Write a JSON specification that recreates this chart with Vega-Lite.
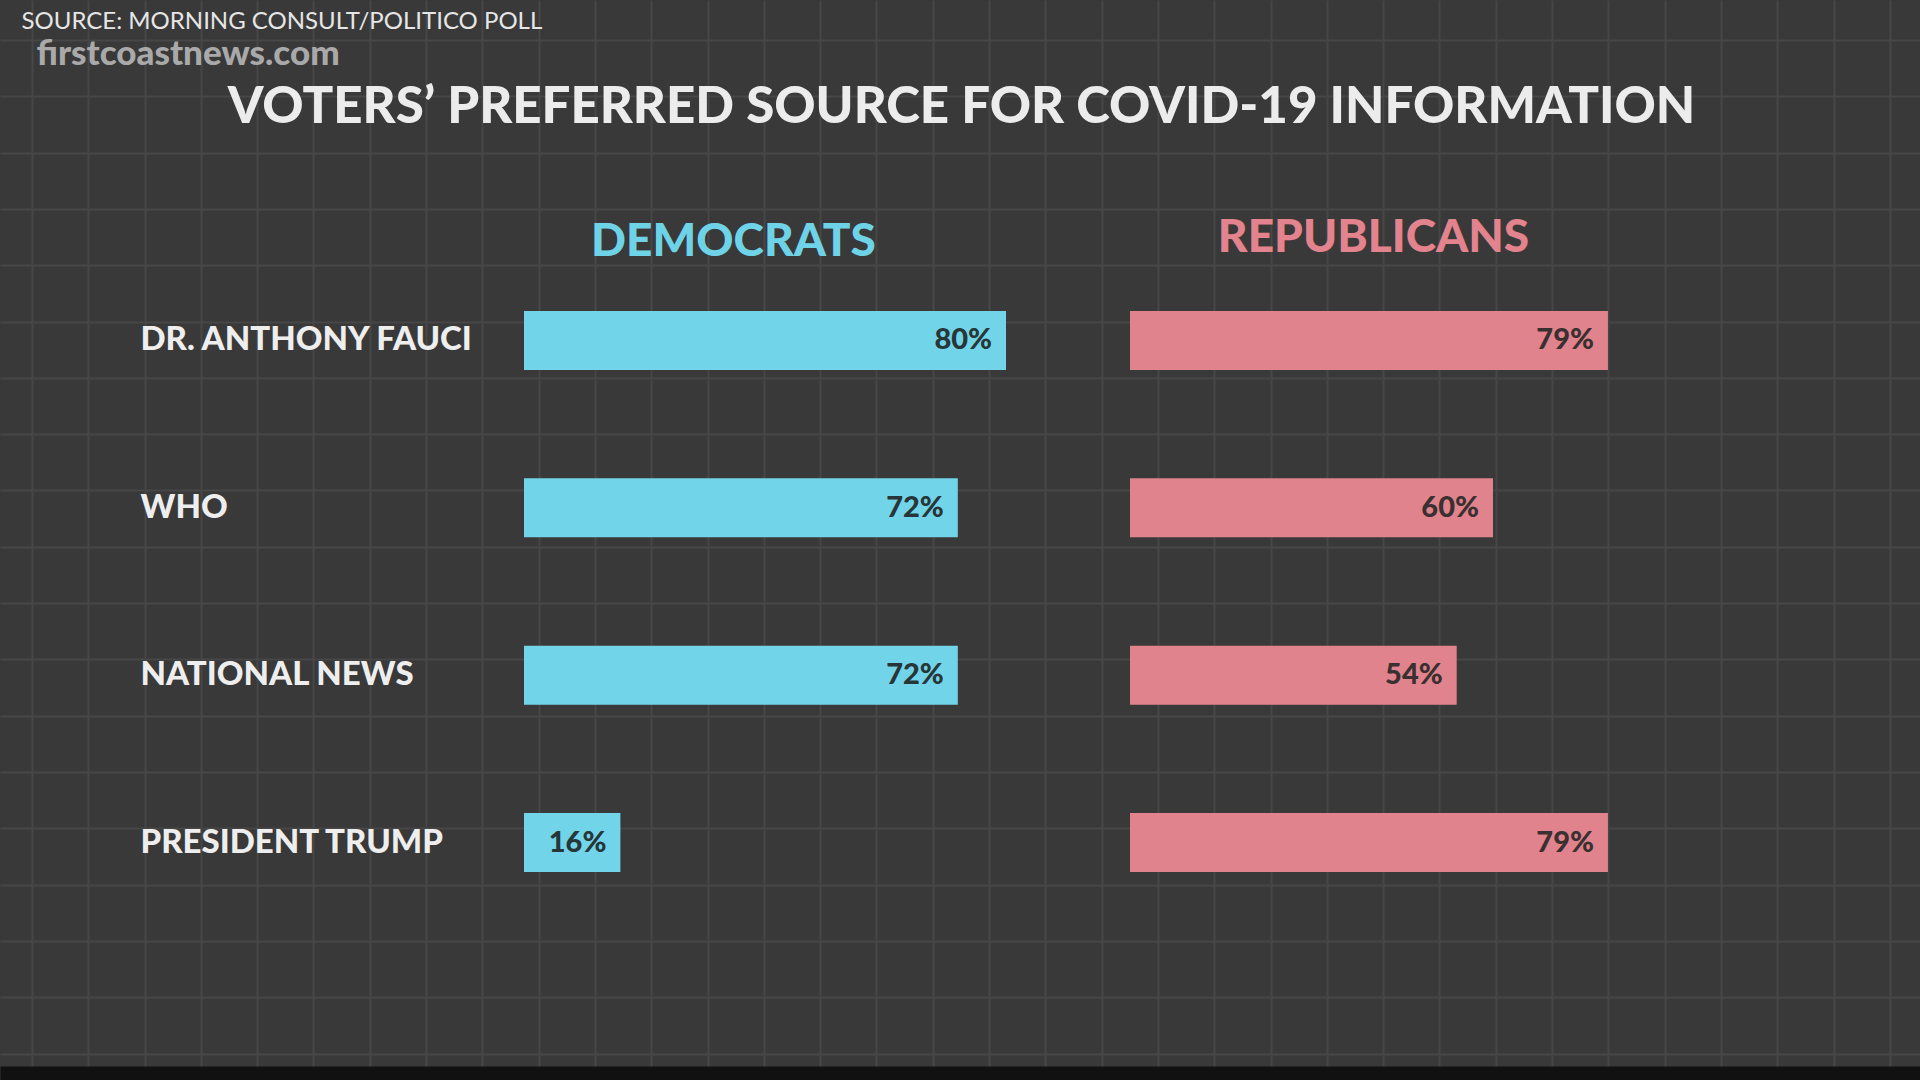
{
  "$schema": "https://vega.github.io/schema/vega-lite/v6.json",
  "width": 1920,
  "height": 1080,
  "autosize": "none",
  "padding": 0,
  "background": "#393939",
  "config": {"view": {"stroke": null}},
  "data": {
    "values": [
      {"source": "DR. ANTHONY FAUCI", "dem": 0.80, "rep": 0.79},
      {"source": "WHO", "dem": 0.72, "rep": 0.60},
      {"source": "NATIONAL NEWS", "dem": 0.72, "rep": 0.54},
      {"source": "PRESIDENT TRUMP", "dem": 0.16, "rep": 0.79}
    ]
  },
  "layer": [
    {
      "mark": {"type": "point", "opacity": 0},
      "encoding": {
        "x": {
          "datum": 0, "type": "quantitative",
          "scale": {"domain": [-0.568, 33.535], "nice": false, "zero": false},
          "axis": {
            "orient": "bottom", "offset": -7,
            "values": [0,1,2,3,4,5,6,7,8,9,10,11,12,13,14,15,16,17,18,19,20,21,22,23,24,25,26,27,28,29,30,31,32,33],
            "grid": true, "gridColor": "#474747", "gridWidth": 2,
            "labels": false, "ticks": false,
            "domain": true, "domainColor": "#111111", "domainWidth": 14,
            "title": "VOTERS’ PREFERRED SOURCE FOR COVID-19 INFORMATION",
            "titleX": 961, "titleY": -951, "titleAlign": "center", "titleBaseline": "alphabetic",
            "titleFont": "Lato", "titleFontWeight": 900, "titleFontSize": 51, "titleColor": "#ececec"
          }
        },
        "y": {
          "datum": 0, "type": "quantitative",
          "scale": {"domain": [-0.47, 18.71], "nice": false, "zero": false},
          "axis": {
            "orient": "left",
            "values": [0,1,2,3,4,5,6,7,8,9,10,11,12,13,14,15,16,17,18],
            "grid": true, "gridColor": "#474747", "gridWidth": 2,
            "labels": false, "ticks": false, "domain": false,
            "title": "SOURCE: MORNING CONSULT/POLITICO POLL",
            "titleAngle": 0, "titleX": 21, "titleY": 28, "titleAlign": "left", "titleBaseline": "alphabetic",
            "titleFont": "Lato", "titleFontWeight": "normal", "titleFontSize": 24, "titleColor": "#e6e6e6"
          }
        }
      }
    },
    {
      "layer": [
        {
          "mark": {"type": "bar", "color": "#72d4e8"},
          "encoding": {
            "y": {
              "field": "source", "type": "nominal",
              "scale": {"domain": ["DR. ANTHONY FAUCI", "WHO", "NATIONAL NEWS", "PRESIDENT TRUMP"], "range": [256.7, 926.3], "paddingInner": 0.6475, "paddingOuter": 0.32375},
              "axis": {
                "orient": "left", "offset": -140,
                "labelAlign": "left", "labelPadding": 0, "tickSize": 0, "ticks": false, "domain": false, "grid": false,
                "labelFont": "Lato", "labelFontWeight": 900, "labelFontSize": 33, "labelColor": "#eeeeee", "labelLimit": 600,
                "title": "firstcoastnews.com",
                "titleAngle": 0, "titleX": -104, "titleY": 64, "titleAlign": "left", "titleBaseline": "alphabetic",
                "titleFont": "Lato", "titleFontWeight": 900, "titleFontSize": 35, "titleColor": "#a9a9a9"
              }
            },
            "x": {
              "field": "dem", "type": "quantitative",
              "scale": {"domain": [-0.8697, 2.3170], "nice": false, "zero": false},
              "axis": {
                "orient": "top", "labels": false, "ticks": false, "domain": false, "grid": false,
                "title": "DEMOCRATS",
                "titleX": 733, "titleY": 255, "titleAlign": "center", "titleBaseline": "alphabetic",
                "titleFont": "Lato", "titleFontWeight": 900, "titleFontSize": 46, "titleColor": "#6fd3e8"
              }
            }
          }
        },
        {
          "mark": {"type": "text", "align": "right", "baseline": "middle", "dx": -14, "font": "Lato", "fontWeight": 900, "fontSize": 29, "color": "#263639"},
          "encoding": {
            "y": {"field": "source", "type": "nominal"},
            "x": {"field": "dem", "type": "quantitative"},
            "text": {"field": "dem", "type": "quantitative", "format": ".0%"}
          }
        }
      ]
    },
    {
      "layer": [
        {
          "mark": {"type": "bar", "color": "#e1838c"},
          "encoding": {
            "y": {
              "field": "source", "type": "nominal",
              "scale": {"domain": ["DR. ANTHONY FAUCI", "WHO", "NATIONAL NEWS", "PRESIDENT TRUMP"], "range": [256.7, 926.3], "paddingInner": 0.6475, "paddingOuter": 0.32375},
              "axis": null
            },
            "x": {
              "field": "rep", "type": "quantitative",
              "scale": {"domain": [-1.8678, 1.3058], "nice": false, "zero": false},
              "axis": {
                "orient": "top", "labels": false, "ticks": false, "domain": false, "grid": false,
                "title": "REPUBLICANS",
                "titleX": 1373, "titleY": 251, "titleAlign": "center", "titleBaseline": "alphabetic",
                "titleFont": "Lato", "titleFontWeight": 900, "titleFontSize": 46, "titleColor": "#e2838d"
              }
            }
          }
        },
        {
          "mark": {"type": "text", "align": "right", "baseline": "middle", "dx": -14, "font": "Lato", "fontWeight": 900, "fontSize": 29, "color": "#3a2f31"},
          "encoding": {
            "y": {"field": "source", "type": "nominal"},
            "x": {"field": "rep", "type": "quantitative"},
            "text": {"field": "rep", "type": "quantitative", "format": ".0%"}
          }
        }
      ]
    }
  ],
  "resolve": {"scale": {"x": "independent", "y": "independent"}}
}
